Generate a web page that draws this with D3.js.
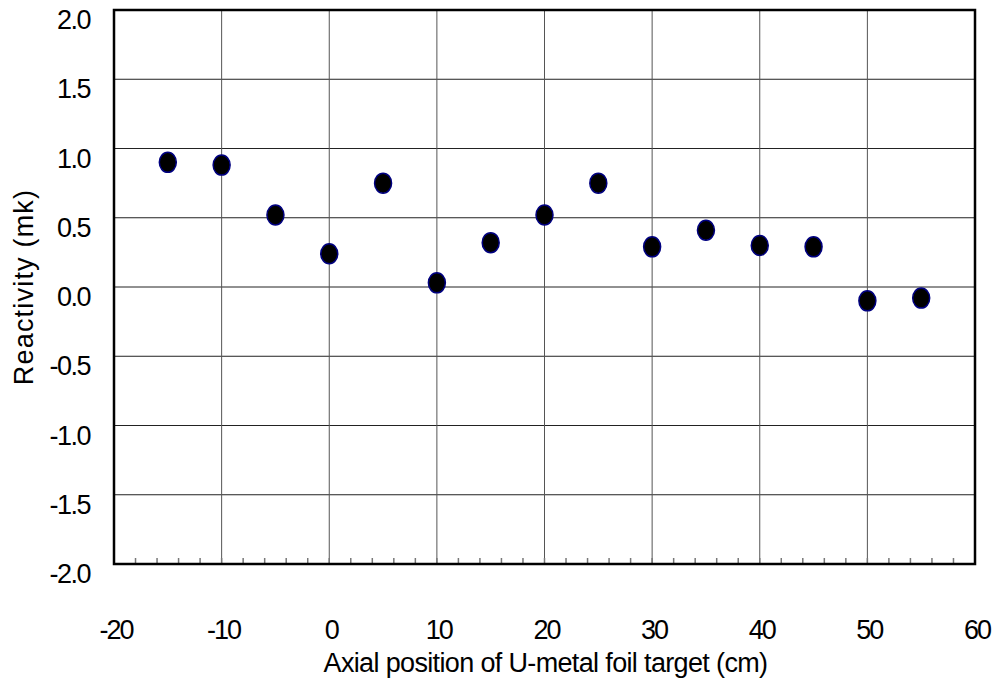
<!DOCTYPE html>
<html>
<head>
<meta charset="utf-8">
<script src="https://cdn.jsdelivr.net/npm/d3@7"></script>
<style>
  body { margin: 0; background: #fff; }
  text { font-family: "Liberation Sans", Arial, sans-serif; fill: #000; }
</style>
</head>
<body>
<svg id="chart"></svg>
<script>
// axial position (cm) and measured reactivity (mk)
const positions = [-15, -10, -5, 0, 5, 10, 15, 20, 25, 30, 35, 40, 45, 50, 55];
const reactivity = [0.90, 0.88, 0.52, 0.24, 0.75, 0.03, 0.32, 0.52, 0.75, 0.29, 0.41, 0.30, 0.29, -0.10, -0.08];
const xTicks = [-20, -10, 0, 10, 20, 30, 40, 50, 60];
const yTicks = [-2.0, -1.5, -1.0, -0.5, 0.0, 0.5, 1.0, 1.5, 2.0];

const width = 992, height = 681;
const margin = {left: 114, top: 10, right: 17, bottom: 117};
const innerW = width - margin.left - margin.right;
const innerH = height - margin.top - margin.bottom;

const svg = d3.select("#chart")
    .attr("width", width)
    .attr("height", height);

const x = d3.scaleLinear().domain([-20, 60]).range([0, innerW]);
const y = d3.scaleLinear().domain([-2, 2]).range([innerH, 0]);

const g = svg.append("g")
    .attr("transform", `translate(${margin.left},${margin.top})`);

// grid
g.selectAll(".hgrid")
    .data(yTicks)
    .enter().append("line")
    .attr("x1", 0).attr("x2", innerW)
    .attr("y1", d => y(d)).attr("y2", d => y(d))
    .attr("stroke", "#222").attr("stroke-width", 1);

g.selectAll(".vgrid")
    .data(xTicks)
    .enter().append("line")
    .attr("x1", d => x(d)).attr("x2", d => x(d))
    .attr("y1", 0).attr("y2", innerH)
    .attr("stroke", "#555").attr("stroke-width", 1);

// minor ticks along bottom, every 2 cm
g.selectAll(".minor")
    .data(d3.range(-20, 61, 2))
    .enter().append("line")
    .attr("x1", d => x(d)).attr("x2", d => x(d))
    .attr("y1", innerH).attr("y2", innerH - 6)
    .attr("stroke", "#777").attr("stroke-width", 1.5);

// frame
g.append("rect")
    .attr("width", innerW).attr("height", innerH)
    .attr("fill", "none").attr("stroke", "#000").attr("stroke-width", 2.5);

// tick labels
g.selectAll(".xl")
    .data(xTicks)
    .enter().append("text")
    .attr("x", d => x(d) + 2)
    .attr("y", innerH + 75)
    .attr("text-anchor", "middle")
    .attr("font-size", 27)
    .attr("letter-spacing", -2)
    .text(d => d);

g.selectAll(".yl")
    .data(yTicks)
    .enter().append("text")
    .attr("x", -24)
    .attr("y", d => y(d) + 19)
    .attr("text-anchor", "end")
    .attr("font-size", 27)
    .attr("letter-spacing", -1.5)
    .text(d => d.toFixed(1));

// points
g.selectAll(".pt")
    .data(positions.map((p, i) => [p, reactivity[i]]))
    .enter().append("ellipse")
    .attr("cx", d => x(d[0]))
    .attr("cy", d => y(d[1]))
    .attr("rx", 8.5).attr("ry", 10)
    .attr("fill", "#000")
    .attr("stroke", "#000080").attr("stroke-width", 1.5);

// axis titles
svg.append("text")
    .attr("x", margin.left + innerW / 2 + 1)
    .attr("y", 672)
    .attr("text-anchor", "middle")
    .attr("font-size", 27)
    .attr("letter-spacing", -0.65)
    .text("Axial position of U-metal foil target (cm)");

svg.append("text")
    .attr("transform", `translate(33,${margin.top + innerH / 2})rotate(-90)`)
    .attr("text-anchor", "middle")
    .attr("font-size", 27)
    .attr("letter-spacing", 1.2)
    .text("Reactivity (mk)");
</script>
</body>
</html>
